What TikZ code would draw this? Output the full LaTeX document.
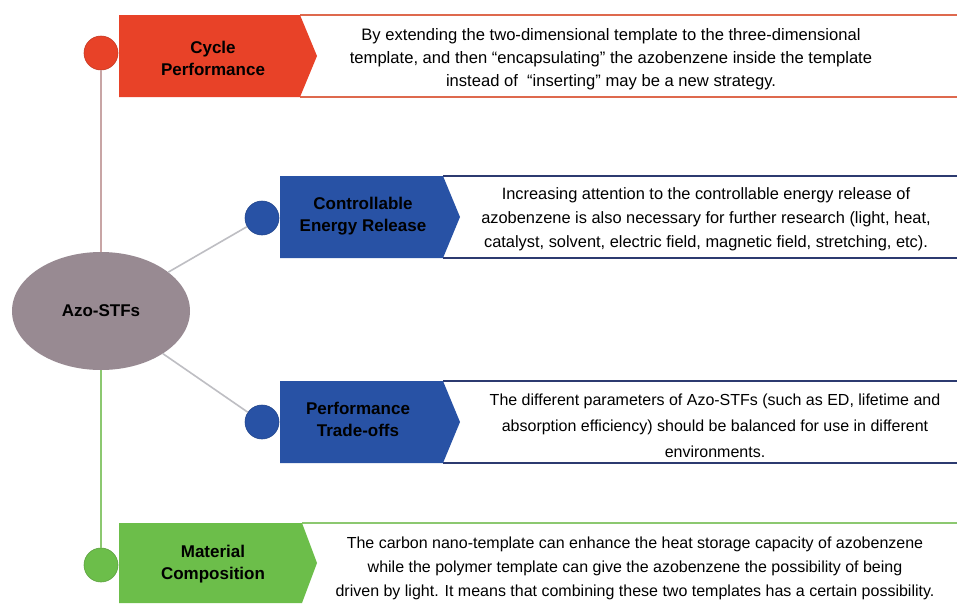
\documentclass[tikz,border=0pt]{standalone}
\usepackage{fontspec}
\setmainfont{Liberation Sans}
\usetikzlibrary{shapes.geometric}
\definecolor{redfill}{RGB}{232,66,40}
\definecolor{redline}{RGB}{222,105,78}
\definecolor{bluefill}{RGB}{40,82,165}
\definecolor{blueline}{RGB}{44,58,112}
\definecolor{greenfill}{RGB}{108,190,74}
\definecolor{greenline}{RGB}{140,200,112}
\definecolor{ellfill}{RGB}{152,138,146}
\definecolor{pinkline}{RGB}{200,165,165}
\definecolor{grayline}{RGB}{190,190,195}
\begin{document}
\begin{tikzpicture}[x=1pt,y=-1pt,
  lbl/.style={font=\fontsize{17}{22}\selectfont\bfseries, align=center, text=black},
  desc/.style={font=\fontsize{16}{24}\selectfont, align=center, text=black},
  dot/.style={circle, minimum size=34pt, inner sep=0pt, draw=#1!85!black, line width=0.6pt, fill=#1},
]
\useasboundingbox (0,0) rectangle (957,603);
\fill[white] (0,0) rectangle (957,603);

% central ellipse
\node[ellipse, draw=none, fill=ellfill, minimum width=178pt, minimum height=118pt, inner sep=0pt,
      font=\fontsize{17}{20}\selectfont\bfseries] (ell) at (101,311) {Azo-STFs};

% circles
\node[dot=redfill] (c1) at (101,53) {};
\node[dot=bluefill] (c2) at (262,218) {};
\node[dot=bluefill] (c3) at (262,422) {};
\node[dot=greenfill] (c4) at (101,565) {};

% connectors
\draw[pinkline, line width=1.6pt] (c1.south) -- (c1.south |- ell.north);
\draw[greenline, line width=1.6pt] (c4.north |- ell.south) -- (c4.north);
\draw[grayline, line width=1.6pt] (ell) -- (c2);
\draw[grayline, line width=1.6pt] (ell) -- (c3);

% white boxes (top/bottom borders)
\fill[white] (300,15) rectangle (957,97);
\draw[redline, line width=2.6pt] (300,15) -- (957,15) (300,97) -- (957,97);
\draw[blueline, line width=2.2pt] (443,176) -- (957,176) (443,258) -- (957,258);
\draw[blueline, line width=2.2pt] (443,381) -- (957,381) (443,463) -- (957,463);
\draw[greenline, line width=2.6pt] (302,523) -- (957,523);

% arrow-shaped label boxes
\fill[redfill] (119,15) -- (300,15) -- (317,56) -- (300,97) -- (119,97) -- cycle;
\fill[bluefill] (280,176) -- (443,176) -- (460,217) -- (443,258) -- (280,258) -- cycle;
\fill[bluefill] (280,381) -- (443,381) -- (460,422) -- (443,463) -- (280,463) -- cycle;
\fill[greenfill] (119,523) -- (302,523) -- (317,563) -- (302,603) -- (119,603) -- cycle;

% labels
\node[lbl] (l1) at (213,58) {Cycle\\Performance};
\node[lbl] (l2) at (363,216) {Controllable\\Energy Release};
\node[lbl] (l3) at (358,419) {Performance\\Trade-offs};
\node[lbl] (l4) at (213,564) {Material\\Composition};

% descriptions
\node[desc, font=\fontsize{16.6}{23}\selectfont] (d1) at (611,59) {By extending the two-dimensional template to the three-dimensional\\template, and then “encapsulating” the azobenzene inside the template\\instead of \ “inserting” may be a new strategy.};
\node[desc, font=\fontsize{16.4}{24}\selectfont] (d2) at (706,219) {Increasing attention to the controllable energy release of\\azobenzene is also necessary for further research (light, heat,\\catalyst, solvent, electric field, magnetic field, stretching, etc).};
\node[desc, font=\fontsize{16}{26}\selectfont] (d3) at (715,425.5) {The different parameters of Azo-STFs (such as ED, lifetime and\\absorption efficiency) should be balanced for use in different\\environments.};
\node[desc] (d4) at (635,568.5) {The carbon nano-template can enhance the heat storage capacity of azobenzene\\while the polymer template can give the azobenzene the possibility of being\\driven by light. It means that combining these two templates has a certain possibility.};
\end{tikzpicture}
\end{document}
